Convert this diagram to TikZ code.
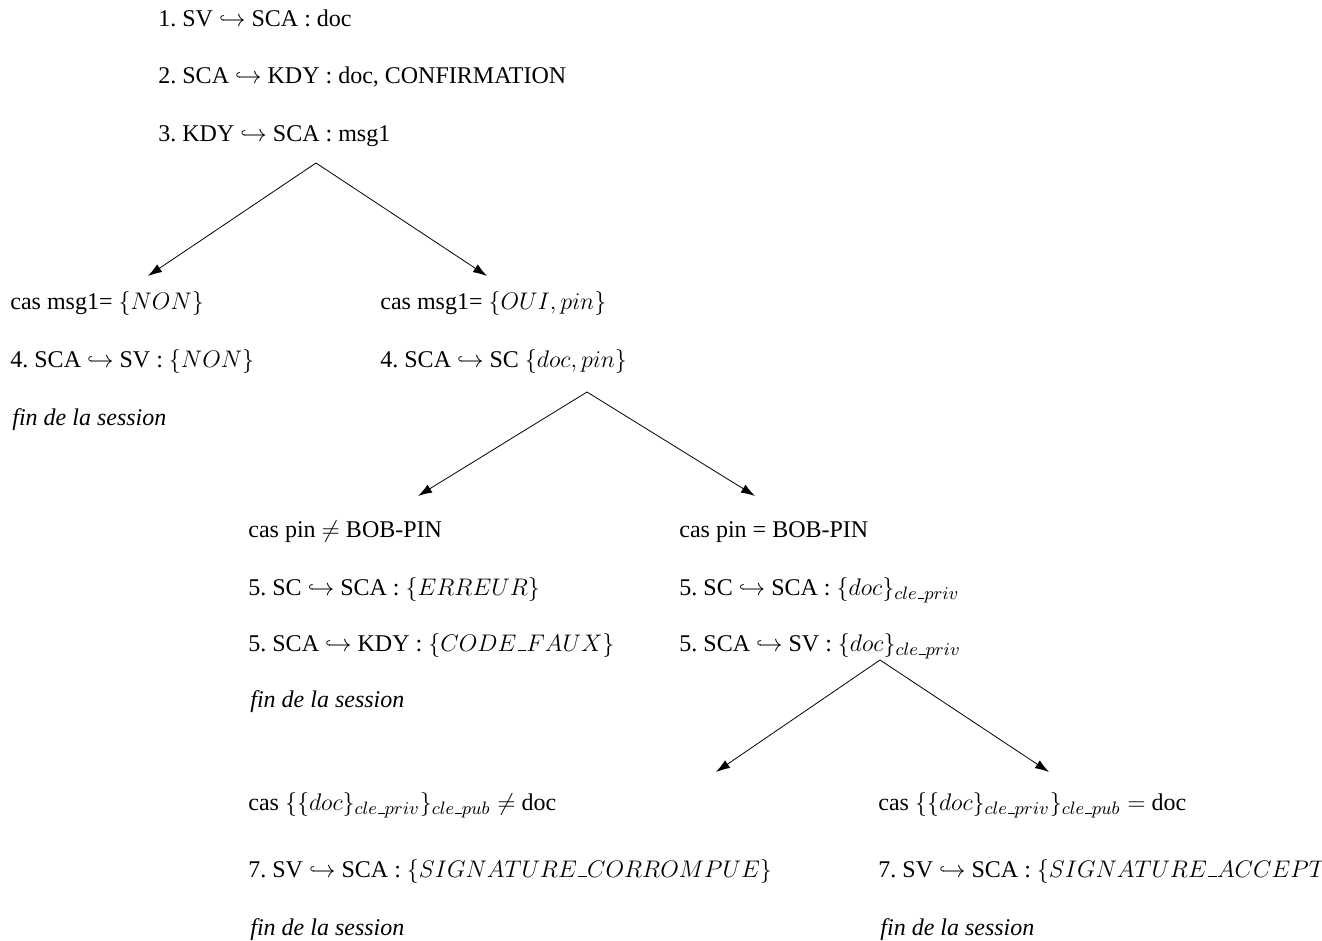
\documentclass[tikz,border=0pt]{standalone}
\usepackage{fontspec}
\usepackage{amsmath}
\setmainfont{Liberation Serif}
\usetikzlibrary{arrows.meta}
% larger script size for the key subscripts
\DeclareMathSizes{12}{12}{9}{7}
% short low bar for identifiers such as cle_priv
\newcommand\lowbar{\text{\leavevmode\kern.06em\vbox{\hrule width.36em}}}
\frenchspacing
\begin{document}
\begin{tikzpicture}[x=0.5pt,y=-0.5pt,
  lbl/.style={anchor=base west, inner sep=0pt, font=\fontsize{12}{14}\selectfont},
  branch/.style={-{Latex[length=7pt,width=4.6pt]}, line width=0.4pt}]
\useasboundingbox (0,0) rectangle (1322,941);
\clip (0,0) rectangle (1322,941);

% opening exchange
\node[lbl] (m1) at (158,27)  {1. SV $\hookrightarrow$ SCA : doc};
\node[lbl] (m2) at (158,84)  {2. SCA $\hookrightarrow$ KDY : doc, CONFIRMATION};
\node[lbl] (m3) at (158,142) {3. KDY $\hookrightarrow$ SCA : msg1};

\coordinate (s1) at (316,163);
\coordinate (t1l) at (148,276);
\coordinate (t1r) at (487,276);
\draw[branch] (s1) -- (t1l);
\draw[branch] (s1) -- (t1r);

% refusal branch
\node[lbl] (n1) at (10,309) {cas msg1= $\{NON\}$};
\node[lbl] (n2) at (10,367) {4. SCA $\hookrightarrow$ SV : $\{NON\}$};
\node[lbl] (n3) at (12,425) {\itshape fin de la session};

% acceptance branch
\node[lbl] (o1) at (380,309) {cas msg1= $\{OUI,pin\}$};
\node[lbl] (o2) at (380,367) {4. SCA $\hookrightarrow$ SC $\{doc,pin\}$};

\coordinate (s2) at (587,392);
\coordinate (t2l) at (418,496);
\coordinate (t2r) at (755,496);
\draw[branch] (s2) -- (t2l);
\draw[branch] (s2) -- (t2r);

% wrong pin
\node[lbl] (p1) at (248,537) {cas pin $\neq$ BOB-PIN};
\node[lbl] (p2) at (248,595) {5. SC $\hookrightarrow$ SCA : $\{ERREUR\}$};
\node[lbl] (p3) at (248,651) {5. SCA $\hookrightarrow$ KDY : $\{CODE\lowbar FAUX\}$};
\node[lbl] (p4) at (250,707) {\itshape fin de la session};

% correct pin
\node[lbl] (q1) at (679,537) {cas pin = BOB-PIN};
\node[lbl] (q2) at (679,595) {5. SC $\hookrightarrow$ SCA : $\{doc\}_{cle\lowbar priv}$};
\node[lbl] (q3) at (679,651) {5. SCA $\hookrightarrow$ SV : $\{doc\}_{cle\lowbar priv}$};

\coordinate (s3) at (880,660);
\coordinate (t3l) at (716,772);
\coordinate (t3r) at (1049,772);
\draw[branch] (s3) -- (t3l);
\draw[branch] (s3) -- (t3r);

% signature check
\node[lbl] (r1) at (248,810) {cas $\{\{doc\}_{cle\lowbar priv}\}_{cle\lowbar pub}\neq$ doc};
\node[lbl] (r2) at (248,877) {7. SV $\hookrightarrow$ SCA : $\{SIGNATURE\lowbar CORROMPUE\}$};
\node[lbl] (r3) at (250,935) {\itshape fin de la session};

\node[lbl] (v1) at (878,810) {cas $\{\{doc\}_{cle\lowbar priv}\}_{cle\lowbar pub}=$ doc};
\node[lbl] (v2) at (878,877) {7. SV $\hookrightarrow$ SCA : $\{SIGNATURE\lowbar ACCEPTEE\}$};
\node[lbl] (v3) at (880,935) {\itshape fin de la session};
\end{tikzpicture}
\end{document}
